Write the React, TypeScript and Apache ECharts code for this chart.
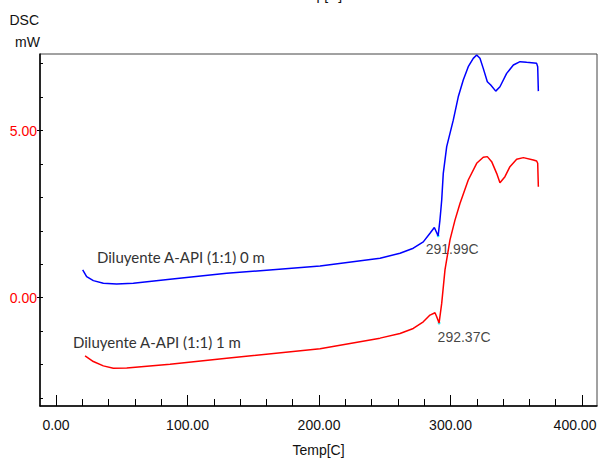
import React, { useEffect, useRef } from "react";
import * as echarts from "echarts";

const blueTemp = [20.3, 23.3, 28.4, 36, 46.1, 58.8, 86.7, 129.8, 200.8, 246.4, 261.6, 271.7, 279.3, 284.4, 287.7, 290.6, 291.9, 292.6, 293.3, 294.5, 297.1, 302.1, 305.9, 309.7, 313.5, 317.3, 319.9, 322.4, 324.9, 328, 330.6, 334.4, 337.6, 342.7, 347.8, 352.9, 357.9, 365.5, 366.3, 366.8];
const blueDsc = [0.83, 0.63, 0.51, 0.43, 0.41, 0.43, 0.55, 0.73, 0.95, 1.18, 1.33, 1.48, 1.67, 1.93, 2.1, 1.85, 2.3, 2.6, 2.92, 3.72, 4.52, 5.31, 6.01, 6.51, 6.91, 7.16, 7.26, 7.16, 6.86, 6.46, 6.36, 6.18, 6.31, 6.71, 6.96, 7.06, 7.04, 7.01, 6.91, 6.18];

const redTemp = [22.1, 28.4, 36, 43.6, 53.8, 86.7, 129.8, 200.8, 246.4, 261.6, 271.7, 279.3, 284.4, 288.2, 289.5, 291.3, 293.3, 295.8, 299.6, 303.4, 307.2, 313.5, 319.9, 324.9, 328, 331.3, 335.1, 337.6, 341.4, 345.2, 350.3, 355.4, 363, 365.5, 366.3, 366.8];
const redDsc = [-1.74, -1.91, -2.04, -2.11, -2.1, -1.99, -1.81, -1.53, -1.21, -1.07, -0.92, -0.72, -0.52, -0.45, -0.57, -0.76, -0.17, 0.83, 1.73, 2.32, 2.82, 3.52, 4.02, 4.2, 4.22, 4.07, 3.72, 3.44, 3.62, 3.92, 4.14, 4.19, 4.12, 4.09, 4.02, 3.32];

const peakTemp = [290.6, 291.3];
const peakDsc = [1.85, -0.76];
const peakLabels = ["291.99C", "292.37C"];
const seriesNames = ["Diluyente A-API (1:1) 0 m", "Diluyente A-API (1:1) 1 m"];

const xMajorTicks = [0, 100, 200, 300, 400];
const xMinorTicks = [0, 20, 40, 60, 80, 100, 120, 140, 160, 180, 200, 220, 240, 260, 280, 300, 320, 340, 360, 380, 400];
const yLabelTicks = [0, 5];
const yMinorTicks = [-3, -2, -1, 0, 1, 2, 3, 4, 5, 6, 7];

const narrow = "'Liberation Sans', Arial, sans-serif";
const fs = 14;

export default function App() {
  const ref = useRef<HTMLDivElement>(null);
  useEffect(() => {
    if (!ref.current) return;
    const chart = echarts.init(ref.current, null, { renderer: "svg" });
    const xMin = -12.17, xMax = 411.4, yMin = -3.24, yMax = 7.29;
    const fmt = (v: number) => v.toFixed(2);
    const lastX = xMajorTicks[xMajorTicks.length - 1];
    chart.setOption({
      animation: false,
      backgroundColor: "#ffffff",
      grid: { left: 40, top: 54, right: 4, bottom: 54, show: true, borderColor: "#444", borderWidth: 1, containLabel: false, outerBoundsMode: "none" },
      xAxis: [
        {
          type: "value", min: xMin, max: xMax, position: "bottom",
          name: "Temp[C]", nameLocation: "middle", nameGap: 37,
          nameTextStyle: { fontFamily: narrow, fontSize: fs, color: "#111" },
          axisLine: { show: true, onZero: false, lineStyle: { color: "#000", width: 1.5 } },
          axisTick: { show: true, inside: true, length: 7, customValues: xMinorTicks, lineStyle: { color: "#000" } },
          axisLabel: {
            show: true, customValues: xMajorTicks,
            formatter: (v: number) => (v === lastX ? "{last|" + fmt(v) + "}" : fmt(v)),
            rich: { last: { padding: [0, 14, 0, 0], fontFamily: narrow, fontSize: fs, color: "#111" } },
            margin: 12, fontFamily: narrow, fontSize: fs, color: "#111", hideOverlap: false,
          },
          splitLine: { show: false },
        },
        {
          type: "value", min: xMin, max: xMax, position: "bottom", offset: 0,
          axisLine: { show: false, onZero: false },
          axisTick: { show: true, inside: true, length: 11, customValues: xMajorTicks, lineStyle: { color: "#000" } },
          axisLabel: { show: false },
          splitLine: { show: false },
        },
      ],
      yAxis: [
        {
          type: "value", min: yMin, max: yMax, position: "left",
          axisLine: { show: true, onZero: false, lineStyle: { color: "#000", width: 1.5 } },
          axisTick: { show: true, inside: true, length: 3, customValues: yMinorTicks, lineStyle: { color: "#000" } },
          axisLabel: { show: true, customValues: yLabelTicks, formatter: fmt, margin: 3, fontFamily: narrow, fontSize: fs, color: "#ff0000" },
          splitLine: { show: false },
        },
        {
          type: "value", min: yMin, max: yMax, position: "left", offset: 0,
          axisLine: { show: false, onZero: false },
          axisTick: { show: true, inside: false, length: 3, customValues: yLabelTicks, lineStyle: { color: "#000" } },
          axisLabel: { show: false },
          splitLine: { show: false },
        },
      ],
      series: [
        {
          name: seriesNames[0], type: "line", showSymbol: false,
          data: blueTemp.map((t, i) => [t, blueDsc[i]]),
          lineStyle: { color: "#0000ff", width: 1.5 }, itemStyle: { color: "#0000ff" },
        },
        {
          name: seriesNames[1], type: "line", showSymbol: false,
          data: redTemp.map((t, i) => [t, redDsc[i]]),
          lineStyle: { color: "#ff0000", width: 1.5 }, itemStyle: { color: "#ff0000" },
        },
        {
          type: "scatter", symbolSize: 3, itemStyle: { color: "#00ffff" },
          data: peakTemp.map((t, i) => ({
            value: [t, peakDsc[i]],
            label: {
              show: true, formatter: peakLabels[i], position: "inside",
              offset: i === 0 ? [14, 13.5] : [25, 14],
              fontFamily: narrow, fontSize: fs, color: "#111",
            },
          })),
        },
      ],
      graphic: [
        { type: "text", x: 39, y: 20, style: { text: "DSC", fontFamily: narrow, fontSize: fs, fill: "#111", textAlign: "right", textVerticalAlign: "middle" } },
        { type: "text", x: 40, y: 42, style: { text: "mW", fontFamily: narrow, fontSize: fs, fill: "#111", textAlign: "right", textVerticalAlign: "middle" } },
        { type: "text", x: 316, y: -12, style: { text: "Temp[C]", fontFamily: narrow, fontSize: fs, fill: "#111", textAlign: "center", textVerticalAlign: "top" } },
        { type: "text", x: 97, y: 257, style: { text: seriesNames[0], fontFamily: "Lato, 'Open Sans', sans-serif", fontSize: 15, fill: "#333", textAlign: "left", textVerticalAlign: "middle" } },
        { type: "text", x: 73, y: 342, style: { text: seriesNames[1], fontFamily: "Lato, 'Open Sans', sans-serif", fontSize: 15, fill: "#333", textAlign: "left", textVerticalAlign: "middle" } },
      ],
    });
    return () => chart.dispose();
  }, []);
  return <div ref={ref} style={{ position: "fixed", left: 0, top: 0, width: 601, height: 460 }} />;
}
